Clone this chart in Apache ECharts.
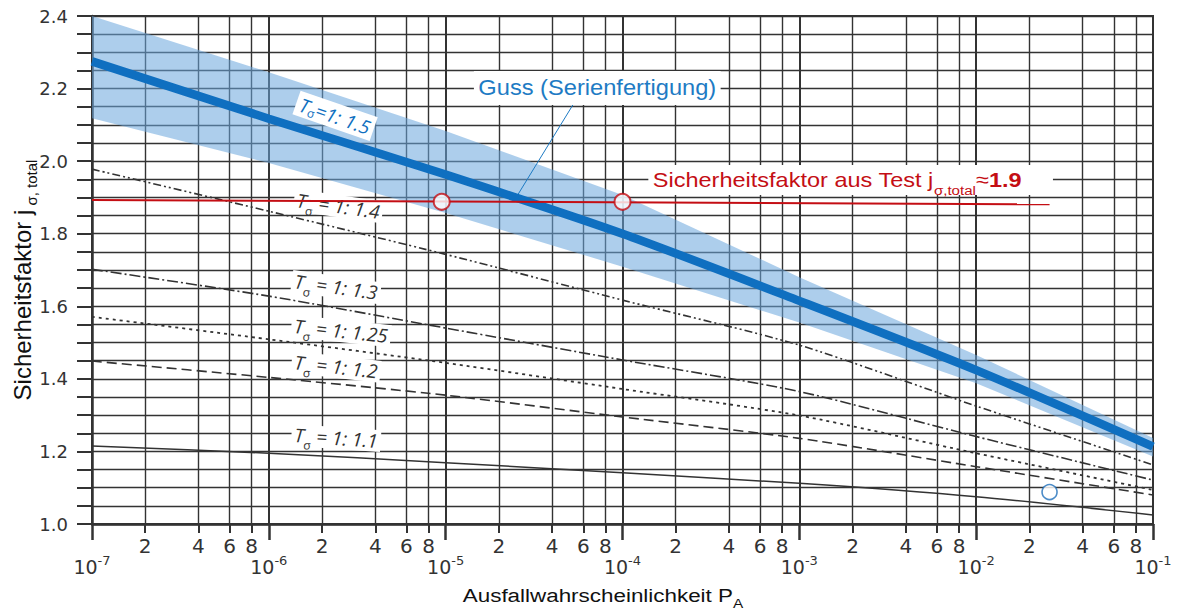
<!DOCTYPE html>
<html><head><meta charset="utf-8">
<script src="https://cdn.jsdelivr.net/npm/echarts@6/dist/echarts.min.js"></script>
<style>html,body{margin:0;padding:0;background:#fff;}#c{width:1177px;height:611px;}</style>
</head><body><div id="c"></div>
<script>
// ---- data ----
const decadeX = [1e-7, 1e-6, 1e-5, 1e-4, 1e-3, 1e-2, 1e-1];
const minorMultipliers = [2, 4, 6, 8];
const t15 = [2.275, 2.117, 1.963, 1.800, 1.615, 1.424, 1.213];
const bandUpper = [2.400, 2.245, 2.083, 1.907, 1.680, 1.466, 1.237];
const bandLower = [2.118, 1.995, 1.857, 1.709, 1.555, 1.388, 1.186];
const t14 = [1.978, 1.862, 1.743, 1.617, 1.493, 1.325, 1.163];
const t13 = [1.702, 1.628, 1.540, 1.452, 1.365, 1.241, 1.121];
const t125 = [1.571, 1.509, 1.444, 1.372, 1.299, 1.195, 1.094];
const t12 = [1.449, 1.404, 1.355, 1.295, 1.236, 1.158, 1.080];
const t11 = [1.215, 1.195, 1.169, 1.141, 1.112, 1.075, 1.025];
const testLineX = [1e-7, 0.026];
const testLineY = [1.893, 1.881];
const testPointsX = [9.5e-6, 1e-4];
const testPointsY = [1.888, 1.888];
const blueMarkX = [0.026];
const blueMarkY = [1.088];
const yMin = 1.0, yMax = 2.4, yStep = 0.05;

const minorTicks = decadeX.slice(0, -1).flatMap(d => minorMultipliers.map(m => m * d));
const pairs = (xs, ys) => xs.map((x, i) => [x, ys[i]]);

const GRID = '#333';
const FONT_TICK = '"DejaVu Sans", "Noto Sans", sans-serif';
const FONT_ANN = '"Open Sans", "Noto Sans", sans-serif';
const FONT_TXT = '"Liberation Sans", Arial, sans-serif';
const BLUE = '#0f6fc0', RED = '#c40e14';

function lineSeries(name, ys, dash, width, color, z) {
  return {
    type: 'line', name, data: pairs(decadeX, ys), xAxisIndex: 0, yAxisIndex: 0,
    symbol: 'none', smooth: 0.25, silent: true, z: z || 4,
    lineStyle: { color, width, type: dash, cap: 'butt' }
  };
}

const chart = echarts.init(document.getElementById('c'), null, { renderer: 'svg' });
const option = {
  animation: false,
  backgroundColor: '#fff',
  grid: { left: 92, right: 24, top: 16, bottom: 87, show: true, borderColor: GRID, borderWidth: 2, backgroundColor: 'transparent' },
  xAxis: [
    {
      type: 'log', logBase: 10, min: 1e-7, max: 1e-1, interval: 1, position: 'bottom', offset: 0,
      axisLine: { show: true, onZero: false, lineStyle: { color: GRID, width: 2.5 } },
      axisTick: { show: true, length: 16, lineStyle: { color: GRID, width: 2.5 } },
      splitLine: { show: true, lineStyle: { color: GRID, width: 2 } },
      minorTick: { show: false }, minorSplitLine: { show: false },
      axisLabel: {
        margin: 30, showMinLabel: true, showMaxLabel: true, hideOverlap: false,
        formatter: v => '{d|10}{e|' + Math.round(Math.log10(v)) + '}',
        rich: {
          d: { fontFamily: FONT_TICK, fontSize: 19, color: '#333', lineHeight: 26 },
          e: { fontFamily: FONT_TICK, fontSize: 13, color: '#333', lineHeight: 12, verticalAlign: 'top' }
        }
      }
    },
    {
      type: 'log', logBase: 10, min: 1e-7, max: 1e-1, position: 'bottom', offset: 0,
      axisLine: { show: false },
      axisTick: { show: true, length: 9, customValues: minorTicks, lineStyle: { color: GRID, width: 2 } },
      splitLine: { show: true, lineStyle: { color: GRID, width: 1.4 } },
      axisLabel: {
        margin: 12, customValues: minorTicks, hideOverlap: false,
        fontFamily: FONT_TICK, fontSize: 20, color: '#333',
        formatter: v => { const e = Math.floor(Math.log10(v) + 1e-9); return String(Math.round(v / Math.pow(10, e))); }
      }
    }
  ],
  yAxis: {
    type: 'value', min: yMin, max: yMax, interval: yStep,
    axisLine: { show: true, onZero: false, lineStyle: { color: GRID, width: 2.5 } },
    axisTick: { show: true, length: 15, lineStyle: { color: GRID, width: 2 } },
    splitLine: { show: true, lineStyle: { color: GRID, width: 1.4 } },
    axisLabel: {
      margin: 24, fontFamily: FONT_TICK, fontSize: 18, color: '#333',
      formatter: v => (Math.abs(v * 5 - Math.round(v * 5)) < 1e-6 ? v.toFixed(1) : '')
    }
  },
  series: [
    {
      type: 'custom', name: 'band', xAxisIndex: 0, yAxisIndex: 0, silent: true, z: 2, clip: true,
      data: decadeX.map((x, i) => [x, bandLower[i], bandUpper[i]]),
      encode: { x: 0, y: [1, 2] },
      renderItem: (params, api) => {
        if (params.dataIndex !== 0) return null;
        const up = decadeX.map((x, i) => api.coord([x, bandUpper[i]]));
        const lo = decadeX.map((x, i) => api.coord([x, bandLower[i]])).reverse();
        return { type: 'polygon', shape: { points: up.concat(lo) }, style: { fill: 'rgba(106,166,220,0.55)' } };
      }
    },
    lineSeries('T1.4', t14, [8, 3, 2, 3, 2, 3], 1.6, '#333'),
    lineSeries('T1.3', t13, [11, 3, 2, 3], 1.6, '#333'),
    lineSeries('T1.25', t125, [3, 4], 1.8, '#333'),
    lineSeries('T1.2', t12, [10, 5], 1.6, '#333'),
    lineSeries('T1.1', t11, 'solid', 1.5, '#333'),
    {
      type: 'line', name: 'test', data: pairs(testLineX, testLineY), symbol: 'none', silent: true, z: 25,
      lineStyle: { color: RED, width: 2 }
    },
    lineSeries('T1.5', t15, 'solid', 8.5, BLUE, 24),
    {
      type: 'scatter', name: 'testPts', data: pairs(testPointsX, testPointsY), symbol: 'circle', symbolSize: 16, z: 26, silent: true,
      itemStyle: { color: '#fff', borderColor: RED, borderWidth: 2 }
    },
    {
      type: 'scatter', name: 'blueMark', data: pairs(blueMarkX, blueMarkY), symbol: 'circle', symbolSize: 15, z: 26, silent: true,
      itemStyle: { color: '#fff', borderColor: '#1f6fba', borderWidth: 1.6 }
    }
  ]
};
chart.setOption(option);

// ---- annotations anchored in data coordinates ----
const tLabelX = [2.47e-6, 2.4e-6, 2.56e-6, 2.4e-6, 2.4e-6];
const tLabelY = [1.876, 1.653, 1.532, 1.433, 1.237];
const tLabelText = ['1: 1.4', '1: 1.3', '1: 1.25', '1: 1.2', '1: 1.1'];
const tLabelRot = [8, 8, 6, 6.5, 4];
const label15 = [2.37e-6, 2.125];
const gussLabel = [7.2e-5, 2.2016];
const gussLeader = [[5.41e-5, 2.166], [2.57e-5, 1.909]];
const testLabel = [1.4e-4, 1.948];

const px = p => chart.convertToPixel({ seriesIndex: 1 }, p);
const deg = d => d * Math.PI / 180;
const graphics = [];

tLabelText.forEach((t, i) => {
  const [x, y] = px([tLabelX[i], tLabelY[i]]);
  graphics.push({
    type: 'text', x, y, rotation: -deg(tLabelRot[i]), z: 20,
    style: {
      text: '{t|T}{s|σ}{r| = ' + t + '}', align: 'center', verticalAlign: 'middle',
      backgroundColor: '#fff', padding: [0, 3, 0, 3],
      rich: {
        t: { fontFamily: FONT_ANN, fontSize: 19, fontStyle: 'italic', fill: '#333', lineHeight: 22 },
        s: { fontFamily: FONT_ANN, fontSize: 12, fill: '#333', lineHeight: 12, padding: [14, 0, 0, 0], verticalAlign: 'top' },
        r: { fontFamily: FONT_ANN, fontSize: 19, fontStyle: 'italic', fill: '#333', lineHeight: 22 }
      }
    }
  });
});

{
  const [x, y] = px(label15);
  graphics.push({
    type: 'text', x, y, rotation: -deg(19), z: 20,
    style: {
      text: '{t|T}{s|σ}{r|=1: 1.5}', align: 'center', verticalAlign: 'middle',
      backgroundColor: '#fff', padding: [2, 4, 1, 4],
      rich: {
        t: { fontFamily: FONT_ANN, fontSize: 19, fontStyle: 'italic', fill: BLUE, lineHeight: 22 },
        s: { fontFamily: FONT_ANN, fontSize: 12, fill: BLUE, lineHeight: 12, verticalAlign: 'bottom' },
        r: { fontFamily: FONT_ANN, fontSize: 19, fontStyle: 'italic', fill: BLUE, lineHeight: 22 }
      }
    }
  });
}
{
  const a = px(gussLeader[0]), b = px(gussLeader[1]);
  graphics.push({ type: 'line', z: 19, shape: { x1: a[0], y1: a[1], x2: b[0], y2: b[1] }, style: { stroke: '#1e7bc4', lineWidth: 1 } });
  const [x, y] = px(gussLabel);
  graphics.push({
    type: 'text', x, y, z: 20, scaleX: 1.1,
    style: {
      text: 'Guss (Serienfertigung)', align: 'center', verticalAlign: 'middle',
      fontFamily: FONT_TXT, fontSize: 21.5, fill: '#1e7bc4', backgroundColor: '#fff', padding: [6, 4, 6, 4]
    }
  });
}
{
  const [x, y] = px(testLabel);
  graphics.push({
    type: 'text', x, y, z: 20, scaleX: 1.12,
    style: {
      text: '{a|Sicherheitsfaktor aus Test j}{s|σ,total}{a|≈}{b|1.9}', align: 'left', verticalAlign: 'middle',
      backgroundColor: '#fff', padding: [3, 28, 3, 4],
      rich: {
        a: { fontFamily: FONT_TXT, fontSize: 21, fill: RED, lineHeight: 24 },
        s: { fontFamily: FONT_TXT, fontSize: 13.5, fill: RED, lineHeight: 13, padding: [15, 0, 0, 0], verticalAlign: 'top' },
        b: { fontFamily: FONT_TXT, fontSize: 21, fontWeight: 'bold', fill: RED, lineHeight: 24 }
      }
    }
  });
}
// axis titles
graphics.push({
  type: 'text', x: 603, y: 595, z: 20, scaleX: 1.18,
  style: {
    text: '{a|Ausfallwahrscheinlichkeit P}{s|A}', align: 'center', verticalAlign: 'middle',
    rich: {
      a: { fontFamily: FONT_TXT, fontSize: 19, fill: '#111', lineHeight: 22 },
      s: { fontFamily: FONT_TXT, fontSize: 13, fill: '#111', lineHeight: 12, padding: [13, 0, 0, 0], verticalAlign: 'top' }
    }
  }
});
graphics.push({
  type: 'text', x: 22, y: 280, rotation: Math.PI / 2, z: 20,
  style: {
    text: '{a|Sicherheitsfaktor j}{s| σ, total}', align: 'center', verticalAlign: 'middle',
    rich: {
      a: { fontFamily: FONT_TXT, fontSize: 24, fill: '#111', lineHeight: 26 },
      s: { fontFamily: FONT_TXT, fontSize: 15, fill: '#111', lineHeight: 15, padding: [15, 0, 0, 0], verticalAlign: 'top' }
    }
  }
});
chart.setOption({ graphic: { elements: graphics } });
</script></body></html>
